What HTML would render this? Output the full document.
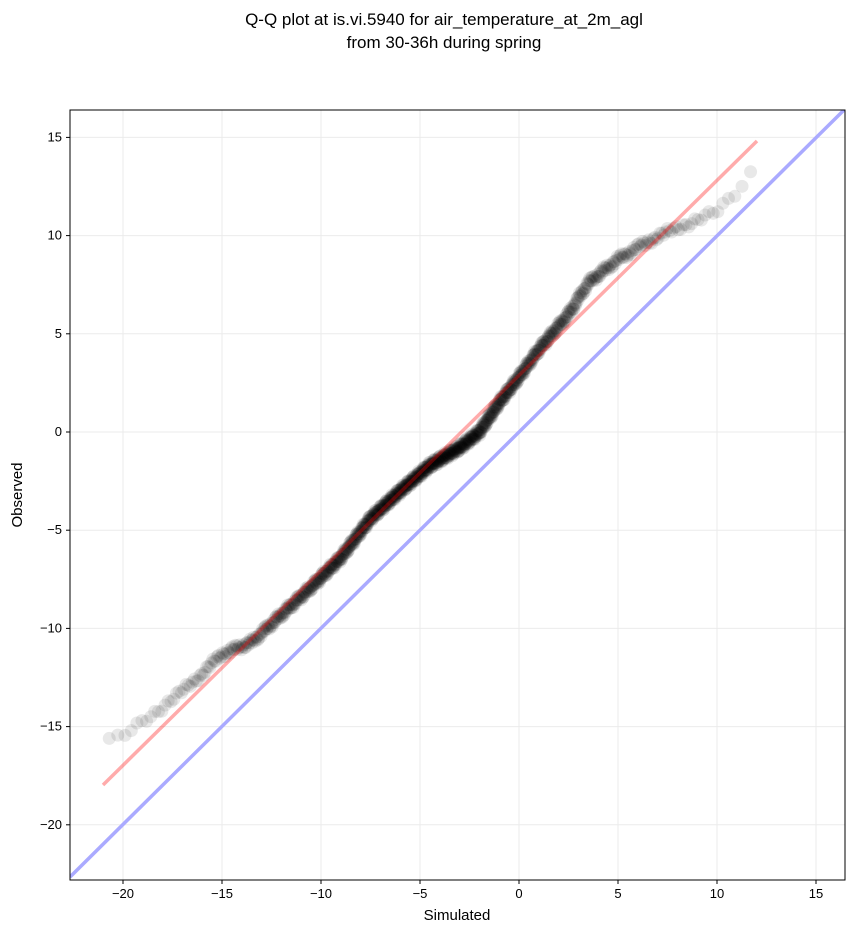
<!DOCTYPE html>
<html><head><style>
body{margin:0;background:#fff;}
svg text{font-family:"Liberation Sans","DejaVu Sans",sans-serif;}
</style></head><body>
<svg id="s" width="854" height="934" xmlns="http://www.w3.org/2000/svg">
<rect width="854" height="934" fill="#fff"/>
<text x="444" y="25" font-size="17" text-anchor="middle">Q-Q plot at is.vi.5940 for air_temperature_at_2m_agl</text>
<text x="444" y="48" font-size="17" text-anchor="middle">from 30-36h during spring</text>
<g id="grid" stroke="#ebebeb" stroke-width="1"></g>
<defs><clipPath id="c"><rect x="70" y="110" width="775" height="770"/></clipPath></defs>
<g clip-path="url(#c)">
<line x1="70" y1="877" x2="845" y2="109" stroke="#aaaaff" stroke-width="3.5"/>
<g id="pts"></g>
<line x1="103" y1="785" x2="757" y2="141" stroke="#ff0000" stroke-opacity="0.33" stroke-width="3.5"/>
</g>
<rect x="70" y="110" width="775" height="770" fill="none" stroke="#000" stroke-width="1"/>
<g id="ticks" font-size="13"></g>
<text x="457" y="920" font-size="15" text-anchor="middle">Simulated</text>
<text x="22" y="495" font-size="15" text-anchor="middle" transform="rotate(-90 22 495)">Observed</text>
</svg>
<script>
const NS="http://www.w3.org/2000/svg";
const X=v=>519+19.8*v, Y=v=>432-19.64*v;
function el(t,a,p){const e=document.createElementNS(NS,t);for(const k in a)e.setAttribute(k,a[k]);p.appendChild(e);return e;}
const g=document.getElementById('grid'),tk=document.getElementById('ticks');
for(let v=-20;v<=15;v+=5){
 el('line',{x1:X(v),y1:110,x2:X(v),y2:880},g);
 el('line',{x1:70,y1:Y(v),x2:845,y2:Y(v)},g);
 el('line',{x1:X(v),y1:880,x2:X(v),y2:884,stroke:'#000'},tk);
 el('line',{x1:66,y1:Y(v),x2:70,y2:Y(v),stroke:'#000'},tk);
 let t=el('text',{x:X(v),y:898,'text-anchor':'middle'},tk);t.textContent=(v<0?'\u2212'+(-v):v);
 t=el('text',{x:62,y:Y(v)+4,'text-anchor':'end'},tk);t.textContent=(v<0?'\u2212'+(-v):v);
}
const K=[[-21,-15.8],[-20.5,-15.7],[-20,-15.5],[-19,-14.7],[-18,-14],[-17,-13.2],[-16,-12.3],[-15,-11.3],[-13.5,-10.7],[-12,-9.3],[-10.5,-7.9],[-9,-6.4],[-7.5,-4.4],[-6,-3],[-4.5,-1.7],[-3,-0.8],[-2,0],[-1,1.5],[0,2.8],[1,4.2],[2.5,6],[3.5,7.6],[5,8.8],[6.5,9.7],[8,10.4],[10,11.2],[11,12.2],[12,13.6]];
function f(s){for(let i=0;i<K.length-1;i++){if(s<=K[i+1][0]){const t=(s-K[i][0])/(K[i+1][0]-K[i][0]);return K[i][1]+t*(K[i+1][1]-K[i][1]);}}return K[K.length-1][1];}
function inv(p){const a=[-39.696830,220.946098,-275.928510,138.357751,-30.664798,2.506628],b=[-54.476098,161.585836,-155.698979,66.801311,-13.280681],c=[-0.007784894,-0.32239645,-2.40075827,-2.54973253,4.37466414,2.93816398],d=[0.00778469570,0.32246712,2.445134137,3.754408661];
 let q,r;if(p<0.02425){q=Math.sqrt(-2*Math.log(p));return(((((c[0]*q+c[1])*q+c[2])*q+c[3])*q+c[4])*q+c[5])/((((d[0]*q+d[1])*q+d[2])*q+d[3])*q+1);}
 if(p>1-0.02425){q=Math.sqrt(-2*Math.log(1-p));return-(((((c[0]*q+c[1])*q+c[2])*q+c[3])*q+c[4])*q+c[5])/((((d[0]*q+d[1])*q+d[2])*q+d[3])*q+1);}
 q=p-0.5;r=q*q;return(((((a[0]*r+a[1])*r+a[2])*r+a[3])*r+a[4])*r+a[5])*q/(((((b[0]*r+b[1])*r+b[2])*r+b[3])*r+b[4])*r+1);}
const P=document.getElementById('pts');const N=1000;
for(let i=0;i<N;i++){let s=-4.5+6.2*inv((i+0.5)/N);if(s<-21||s>12)continue;
 const w=0.25*Math.sin(i*1.7)+0.15*Math.sin(i*0.37);
 el('circle',{cx:X(s),cy:Y(f(s)+w*0.5),r:6.5,fill:'#000','fill-opacity':0.09},P);}
</script>
</body></html>
